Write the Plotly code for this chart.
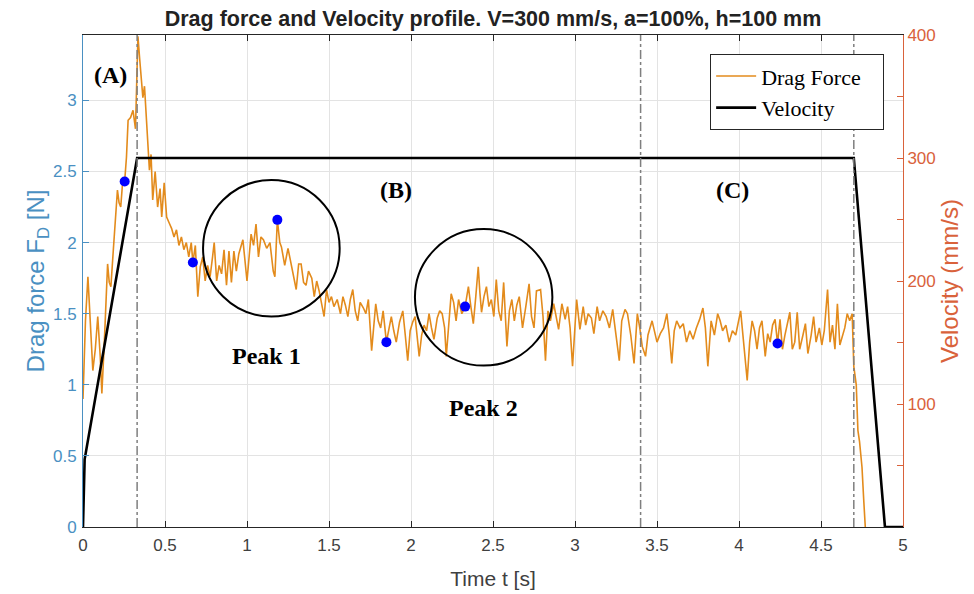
"""Drag force and velocity profile, V=300 mm/s, a=100%, h=100 mm."""
import plotly.graph_objects as go

# measured drag force [N] vs time [s]
drag_t = [
    0.000, 0.015, 0.030, 0.045, 0.060, 0.075, 0.090, 0.105, 0.115, 0.130,
    0.150, 0.160, 0.170, 0.185, 0.200, 0.210, 0.220, 0.230, 0.240, 0.254,
    0.265, 0.275, 0.290, 0.305, 0.320, 0.328, 0.335, 0.345, 0.355, 0.365,
    0.375, 0.385, 0.395, 0.405, 0.415, 0.425, 0.440, 0.455, 0.470, 0.480,
    0.495, 0.510, 0.525, 0.540, 0.555, 0.570, 0.585, 0.600, 0.615, 0.630,
    0.645, 0.660, 0.670, 0.685, 0.700, 0.715, 0.730, 0.745, 0.760, 0.775,
    0.790, 0.800, 0.815, 0.830, 0.845, 0.860, 0.875, 0.890, 0.905, 0.920,
    0.935, 0.950, 0.975, 1.000, 1.025, 1.040, 1.055, 1.070, 1.085, 1.100,
    1.120, 1.140, 1.160, 1.170, 1.185, 1.200, 1.210, 1.230, 1.250, 1.265,
    1.280, 1.300, 1.315, 1.330, 1.345, 1.360, 1.375, 1.395, 1.410, 1.425,
    1.440, 1.470, 1.485, 1.500, 1.515, 1.530, 1.550, 1.570, 1.585, 1.600,
    1.615, 1.630, 1.645, 1.660, 1.675, 1.690, 1.710, 1.725, 1.740, 1.760,
    1.785, 1.800, 1.815, 1.830, 1.850, 1.865, 1.880, 1.895, 1.910, 1.930,
    1.950, 1.965, 1.980, 1.995, 2.010, 2.025, 2.040, 2.050, 2.065, 2.080,
    2.095, 2.110, 2.125, 2.140, 2.160, 2.175, 2.190, 2.205, 2.215, 2.230,
    2.245, 2.260, 2.275, 2.290, 2.310, 2.330, 2.350, 2.365, 2.380, 2.395,
    2.410, 2.420, 2.430, 2.445, 2.460, 2.475, 2.490, 2.505, 2.520, 2.535,
    2.550, 2.565, 2.585, 2.600, 2.615, 2.630, 2.645, 2.660, 2.680, 2.700,
    2.720, 2.735, 2.750, 2.765, 2.790, 2.805, 2.820, 2.835, 2.850, 2.870,
    2.885, 2.900, 2.920, 2.940, 2.955, 2.970, 2.985, 3.000, 3.010, 3.030,
    3.050, 3.065, 3.080, 3.100, 3.115, 3.135, 3.150, 3.170, 3.190, 3.210,
    3.230, 3.250, 3.270, 3.285, 3.305, 3.320, 3.340, 3.360, 3.380, 3.395,
    3.410, 3.430, 3.445, 3.470, 3.485, 3.500, 3.520, 3.540, 3.560, 3.575,
    3.590, 3.605, 3.620, 3.640, 3.660, 3.680, 3.700, 3.720, 3.740, 3.760,
    3.780, 3.795, 3.810, 3.830, 3.850, 3.870, 3.885, 3.900, 3.920, 3.940,
    3.960, 3.980, 4.010, 4.030, 4.050, 4.065, 4.080, 4.095, 4.110, 4.125,
    4.140, 4.160, 4.175, 4.190, 4.205, 4.220, 4.235, 4.250, 4.265, 4.280,
    4.310, 4.325, 4.340, 4.355, 4.370, 4.390, 4.405, 4.420, 4.440, 4.455,
    4.470, 4.490, 4.505, 4.520, 4.540, 4.555, 4.570, 4.585, 4.600, 4.615,
    4.630, 4.645, 4.660, 4.675, 4.690, 4.700, 4.715, 4.725, 4.735, 4.750,
    4.760, 4.770,
]
drag_f = [
    0.90, 1.45, 1.76, 1.40, 1.10, 1.25, 1.48, 1.20, 0.94, 1.30,
    1.85, 1.72, 1.69, 1.95, 2.20, 2.37, 2.28, 2.25, 2.40, 2.43,
    2.60, 2.86, 2.88, 2.93, 2.80, 3.10, 3.45, 3.30, 3.14, 3.02,
    3.10, 2.91, 2.70, 2.51, 2.62, 2.30, 2.50, 2.25, 2.38, 2.18,
    2.42, 2.18, 2.14, 2.10, 2.04, 2.09, 1.98, 2.04, 1.95, 2.00,
    1.90, 2.00, 1.86, 1.98, 1.62, 1.83, 1.90, 1.73, 1.84, 1.76,
    1.90, 2.00, 1.73, 1.84, 1.78, 1.95, 1.70, 1.94, 1.72, 1.94,
    1.80, 1.92, 2.02, 1.73, 2.06, 1.98, 2.13, 1.90, 2.04, 2.02,
    1.96, 2.00, 1.80, 1.76, 2.16, 2.00, 1.97, 1.84, 1.96, 1.88,
    1.80, 1.67, 1.85, 1.85, 1.72, 1.70, 1.80, 1.75, 1.62, 1.73,
    1.66, 1.48, 1.67, 1.58, 1.62, 1.55, 1.60, 1.50, 1.62, 1.56,
    1.48, 1.60, 1.67, 1.52, 1.45, 1.58, 1.54, 1.50, 1.60, 1.24,
    1.57, 1.45, 1.40, 1.52, 1.30, 1.40, 1.48, 1.38, 1.30, 1.44,
    1.52, 1.35, 1.17, 1.38, 1.44, 1.48, 1.30, 1.20, 1.35, 1.42,
    1.38, 1.50, 1.40, 1.32, 1.47, 1.52, 1.50, 1.40, 1.20, 1.45,
    1.64, 1.58, 1.45, 1.60, 1.50, 1.55, 1.69, 1.55, 1.43, 1.62,
    1.83, 1.65, 1.51, 1.62, 1.69, 1.55, 1.60, 1.48, 1.74, 1.52,
    1.45, 1.72, 1.27, 1.52, 1.60, 1.45, 1.56, 1.62, 1.40, 1.55,
    1.71, 1.48, 1.40, 1.66, 1.67, 1.48, 1.17, 1.52, 1.45, 1.57,
    1.48, 1.39, 1.57, 1.46, 1.55, 1.40, 1.13, 1.40, 1.60, 1.39,
    1.55, 1.42, 1.50, 1.47, 1.36, 1.55, 1.45, 1.52, 1.48, 1.40,
    1.53, 1.35, 1.17, 1.45, 1.53, 1.50, 1.35, 1.15, 1.50, 1.40,
    1.27, 1.20, 1.35, 1.45, 1.38, 1.30, 1.36, 1.40, 1.50, 1.35,
    1.15, 1.38, 1.45, 1.40, 1.43, 1.30, 1.38, 1.32, 1.40, 1.46,
    1.54, 1.40, 1.13, 1.45, 1.35, 1.50, 1.45, 1.38, 1.42, 1.30,
    1.38, 1.35, 1.52, 1.30, 1.03, 1.30, 1.45, 1.38, 1.25, 1.40,
    1.45, 1.20, 1.36, 1.30, 1.42, 1.46, 1.29, 1.46, 1.25, 1.35,
    1.51, 1.25, 1.30, 1.51, 1.25, 1.35, 1.43, 1.22, 1.35, 1.48,
    1.30, 1.40, 1.28, 1.38, 1.67, 1.30, 1.42, 1.25, 1.57, 1.28,
    1.35, 1.40, 1.50, 1.45, 1.50, 1.13, 1.00, 0.68, 0.60, 0.42,
    0.20, 0.00,
]

# commanded velocity [mm/s]
vel_t = [0.0, 0.01, 0.33, 4.70, 4.89, 5.0]
vel_v = [0, 55, 300, 300, 0, 0]

# marked points on the force signal
mark_t = [0.254, 0.67, 1.185, 1.85, 2.33, 4.235]
mark_f = [2.43, 1.86, 2.16, 1.30, 1.55, 1.29]

# phase boundaries (dash-dot lines)
phase_t = [0.33, 3.4, 4.7]

# text labels and circled peaks
label_text = ["(A)", "(B)", "(C)", "Peak 1", "Peak 2"]
label_t = [0.165, 1.91, 3.96, 1.12, 2.445]
label_f = [3.18, 2.37, 2.37, 1.20, 0.84]
circle_t = [(0.732, 1.565), (2.024, 2.862)]
circle_f = [(1.48, 2.44), (1.135, 2.095)]

blue = "#4A90C2"
red = "#D9623B"
grey = "#404040"
sans = "Liberation Sans, Arial, sans-serif"
serif = "Liberation Serif, Times New Roman, serif"
pad = "&nbsp;" * 3  # widens the legend box a little, like the original

fig = go.Figure()
fig.add_trace(go.Scatter(
    x=drag_t, y=drag_f, mode="lines", name="Drag Force" + pad,
    line=dict(color="#E38B1C", width=1.6), yaxis="y"))
fig.add_trace(go.Scatter(
    x=mark_t, y=mark_f, mode="markers", showlegend=False,
    marker=dict(color="#0000FF", size=10), yaxis="y"))
fig.add_trace(go.Scatter(
    x=vel_t, y=vel_v, mode="lines", name="Velocity",
    line=dict(color="black", width=2.6), yaxis="y2"))

for t in phase_t:
    fig.add_shape(type="line", x0=t, x1=t, y0=0, y1=1, xref="x", yref="paper",
                  line=dict(color="#7F7F7F", width=1.5, dash="dashdot"))

for (t0, t1), (f0, f1) in zip(circle_t, circle_f):
    fig.add_shape(type="circle", x0=t0, x1=t1, y0=f0, y1=f1, xref="x", yref="y",
                  line=dict(color="black", width=2))

for txt, t, f in zip(label_text, label_t, label_f):
    fig.add_annotation(x=t, y=f, xref="x", yref="y", text=f"<b>{txt}</b>",
                       showarrow=False, font=dict(family=serif, size=24, color="black"))

# page body adds an 8 px offset, so the figure is sized to fit the window
fig.update_layout(
    width=966, height=586,
    margin=dict(l=75, r=71, t=27, b=67),
    paper_bgcolor="white", plot_bgcolor="white",
    title=dict(text="<b>Drag force and Velocity profile. V=300 mm/s, a=100%, h=100 mm</b>",
               x=0.5, xref="paper", y=0.982, yanchor="middle",
               font=dict(family=sans, size=21.5, color="#222222")),
    xaxis=dict(
        range=[0, 5], dtick=0.5, showgrid=True, gridcolor="#E3E3E3",
        showline=True, linecolor="#262626", linewidth=1, mirror="ticks",
        ticks="inside", ticklen=6, tickcolor="#262626", zeroline=False,
        ticklabelstandoff=3, automargin=False,
        tickfont=dict(family=sans, size=17, color=grey),
        title=dict(text="Time t [s]", font=dict(family=sans, size=21, color=grey), standoff=16)),
    yaxis=dict(
        range=[0, 3.46], dtick=0.5, showgrid=True, gridcolor="#E3E3E3",
        showline=True, linecolor=blue, linewidth=1, zeroline=False,
        ticks="inside", ticklen=6, tickcolor=blue, ticklabelstandoff=2,
        automargin=False,
        tickfont=dict(family=sans, size=17, color=blue),
        title=dict(text="Drag force F<sub>D</sub> [N]",
                   font=dict(family=sans, size=24, color=blue), standoff=0)),
    yaxis2=dict(
        range=[0, 400], overlaying="y", side="right", showgrid=False,
        tickvals=[100, 200, 300, 400],
        minor=dict(dtick=50, tick0=0, ticks="inside", ticklen=6, tickcolor=red,
                   showgrid=False),
        showline=True, linecolor=red, linewidth=1, zeroline=False,
        ticks="inside", ticklen=6, tickcolor=red, automargin=False,
        tickfont=dict(family=sans, size=17, color=red),
        title=dict(text="Velocity (mm/s)", font=dict(family=sans, size=24, color=red), standoff=6)),
    legend=dict(
        x=0.977, xanchor="right", y=0.961, yanchor="top",
        bgcolor="white", bordercolor="#262626", borderwidth=1,
        itemwidth=40,
        font=dict(family=serif, size=22, color="black")),
)

fig.write_html("out.html")
